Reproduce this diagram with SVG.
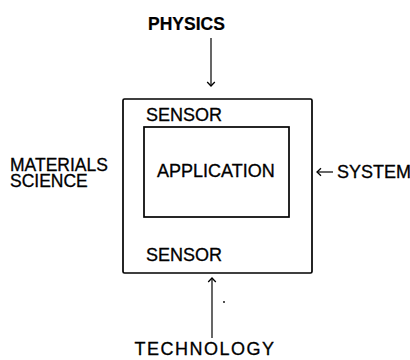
<svg xmlns="http://www.w3.org/2000/svg" width="410" height="360" viewBox="0 0 410 360">
  <defs>
    <marker id="head" markerWidth="10" markerHeight="10" refX="5" refY="5" orient="auto" markerUnits="userSpaceOnUse">
      <path d="M1,1.2 L5,5 L1,8.8" fill="none" stroke="#000" stroke-width="1.3"/>
    </marker>
    <style>
      text { font-family: "Liberation Sans", Arial, sans-serif; fill: #000; stroke: #000; stroke-width: 0.3; font-size: 18px; }
      .bold { font-weight: bold; font-size: 17.5px; stroke-width: 0.2; }
      .side { font-size: 17.5px; }
      .box { fill: none; stroke: #000; stroke-width: 1.7; }
      .conn { stroke: #000; stroke-width: 1.2; fill: none; }
    </style>
  </defs>
  <rect width="410" height="360" fill="#fff"/>

  <g id="physics">
    <text class="bold" x="148" y="30">PHYSICS</text>
  </g>

  <g id="sensor">
    <rect class="box" x="123" y="99" width="189" height="174" rx="1.5"/>
    <text x="146" y="121">SENSOR</text>
    <text x="146" y="261">SENSOR</text>
  </g>

  <g id="application">
    <rect class="box" x="144" y="127" width="145" height="90"/>
    <text x="157" y="177">APPLICATION</text>
  </g>

  <g id="materials-science">
    <text class="side"><tspan x="10" y="171">MATERIALS</tspan><tspan x="10" y="187">SCIENCE</tspan></text>
  </g>

  <g id="system">
    <text x="337" y="178">SYSTEM</text>
  </g>

  <g id="technology">
    <text x="205" y="355" text-anchor="middle" letter-spacing="1.5">TECHNOLOGY</text>
  </g>

  <g id="connectors">
    <line class="conn" x1="211" y1="38" x2="211" y2="86" marker-end="url(#head)"/>
    <line class="conn" x1="212" y1="338" x2="212" y2="278" marker-end="url(#head)"/>
    <line class="conn" x1="333" y1="172" x2="317" y2="172" marker-end="url(#head)"/>
    <circle cx="224" cy="302" r="0.9" fill="#000"/>
  </g>
</svg>
